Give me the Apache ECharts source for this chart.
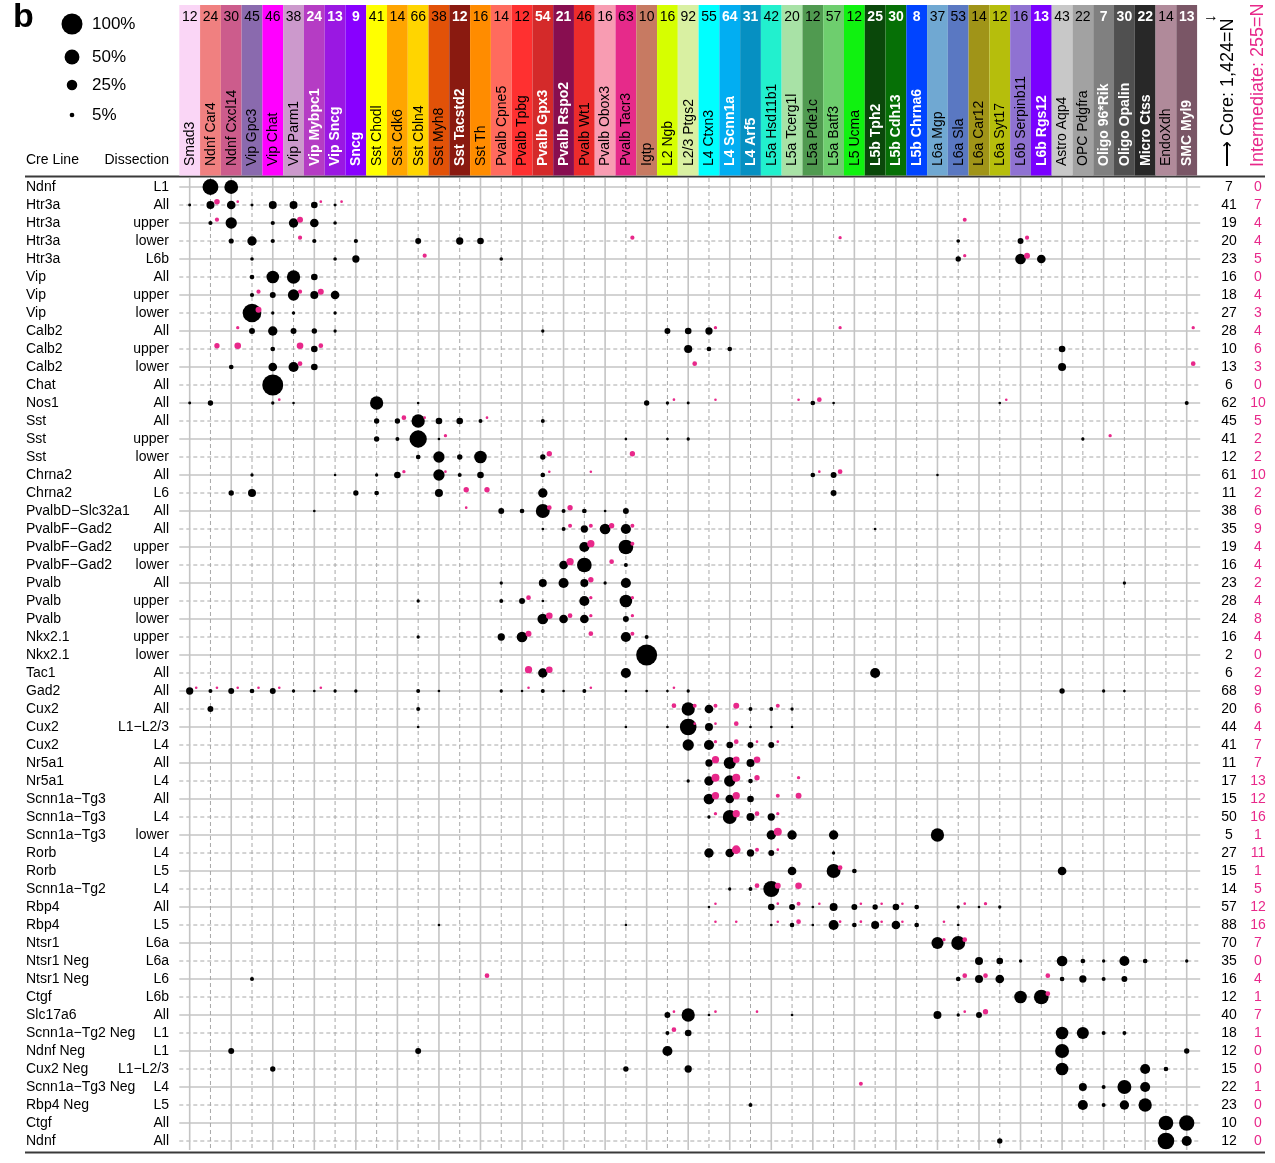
<!DOCTYPE html>
<html>
<head>
<meta charset="utf-8">
<script src="https://cdn.jsdelivr.net/npm/echarts@6/dist/echarts.min.js"></script>
<style>
  html, body { margin: 0; padding: 0; background: #fff; }
  #chart { width: 1275px; height: 1163px; }
</style>
</head>
<body>
<div id="chart"></div>
<script>
// ---- cell types (columns) ----
const cellTypes = ['Smad3','Ndnf Car4','Ndnf Cxcl14','Vip Gpc3','Vip Chat','Vip Parm1','Vip Mybpc1','Vip Sncg','Sncg',
  'Sst Chodl','Sst Cdk6','Sst Cbln4','Sst Myh8','Sst Tacstd2','Sst Th','Pvalb Cpne5','Pvalb Tpbg','Pvalb Gpx3',
  'Pvalb Rspo2','Pvalb Wt1','Pvalb Obox3','Pvalb Tacr3','Igtp','L2 Ngb','L2/3 Ptgs2','L4 Ctxn3','L4 Scnn1a','L4 Arf5',
  'L5a Hsd11b1','L5a Tcerg1l','L5a Pde1c','L5a Batf3','L5 Ucma','L5b Tph2','L5b Cdh13','L5b Chrna6','L6a Mgp','L6a Sla',
  'L6a Car12','L6a Syt17','L6b Serpinb11','L6b Rgs12','Astro Aqp4','OPC Pdgfra','Oligo 96*Rik','Oligo Opalin',
  'Micro Ctss','EndoXdh','SMC Myl9'];
const typeCounts = [12,24,30,45,46,38,24,13,9,41,14,66,38,12,16,14,12,54,21,46,16,63,10,16,92,55,64,31,42,20,12,57,12,25,30,8,37,53,14,12,16,13,43,22,7,30,22,14,13];

// ---- Cre lines (rows) ----
const creLines = ['Ndnf','Htr3a','Htr3a','Htr3a','Htr3a','Vip','Vip','Vip','Calb2','Calb2','Calb2','Chat','Nos1',
  'Sst','Sst','Sst','Chrna2','Chrna2','PvalbD\u2212Slc32a1','PvalbF\u2212Gad2','PvalbF\u2212Gad2','PvalbF\u2212Gad2',
  'Pvalb','Pvalb','Pvalb','Nkx2.1','Nkx2.1','Tac1','Gad2','Cux2','Cux2','Cux2','Nr5a1','Nr5a1',
  'Scnn1a\u2212Tg3','Scnn1a\u2212Tg3','Scnn1a\u2212Tg3','Rorb','Rorb','Scnn1a\u2212Tg2','Rbp4','Rbp4','Ntsr1',
  'Ntsr1 Neg','Ntsr1 Neg','Ctgf','Slc17a6','Scnn1a\u2212Tg2 Neg','Ndnf Neg','Cux2 Neg','Scnn1a\u2212Tg3 Neg',
  'Rbp4 Neg','Ctgf','Ndnf'];
const dissections = ['L1','All','upper','lower','L6b','All','upper','lower','All','upper','lower','All','All',
  'All','upper','lower','All','L6','All','All','upper','lower','All','upper','lower','upper','lower','All','All',
  'All','L1\u2212L2/3','L4','All','L4','All','L4','lower','L4','L5','L4','All','L5','L6a','L6a','L6','L6b','All',
  'L1','L1','L1\u2212L2/3','L4','L5','All','All'];
const coreN = [7,41,19,20,23,16,18,27,28,10,13,6,62,45,41,12,61,11,38,35,19,16,23,28,24,16,2,6,68,20,44,41,11,17,15,50,5,27,15,14,57,88,70,35,16,12,40,18,12,15,22,23,10,12];
const interN = [0,7,4,4,5,0,4,3,4,6,3,0,10,5,2,2,10,2,6,9,4,4,2,4,8,4,0,2,9,6,4,7,7,13,12,16,1,11,1,5,12,16,7,0,4,1,7,1,0,0,1,0,0,0];

// ---- percent of each Cre line's cells per type: [row, column, percent] ----
const coreDots = [
  [0,1,57],[0,2,43],
  [1,0,2],[1,1,14.5],[1,2,17],[1,3,2],[1,4,14.5],[1,5,14.5],[1,6,10],[1,7,2],
  [2,1,4],[2,2,29],[2,4,4],[2,5,20],[2,6,17],[2,7,3],
  [3,2,6],[3,3,20],[3,4,4],[3,6,4],[3,8,4],[3,11,8],[3,13,12],[3,14,10],[3,37,3],[3,40,8],
  [4,3,3],[4,7,3],[4,8,12],[4,15,3],[4,37,6.5],[4,40,26],[4,41,17],
  [5,3,5],[5,4,36],[5,5,40],[5,6,10],
  [6,3,4],[6,4,8],[6,5,29],[6,6,14.5],[6,7,17],
  [7,3,79],[7,4,2.5],[7,5,2.5],[7,7,2.5],
  [8,3,8],[8,4,20],[8,5,8],[8,6,6.5],[8,7,2.5],[8,17,2.5],[8,23,8],[8,24,10],[8,25,12],
  [9,4,5],[9,6,10],[9,24,15],[9,25,5],[9,26,5],[9,42,10],
  [10,2,5],[10,4,17],[10,5,23],[10,6,10],[10,42,14.5],
  [11,4,100],
  [12,0,2],[12,1,6.5],[12,4,2.5],[12,5,1],[12,9,40],[12,11,1],[12,22,6.5],[12,23,2.5],[12,24,2],[12,30,5],[12,31,1.6],[12,39,1.6],[12,48,3.6],
  [13,9,6.5],[13,10,6.5],[13,11,40],[13,12,10],[13,13,10],[13,14,3.6],[13,17,3.6],
  [14,9,6.5],[14,10,3.6],[14,11,68],[14,12,1.6],[14,21,1.6],[14,23,1.6],[14,24,2.5],[14,43,2.5],
  [15,11,5],[15,12,29],[15,13,6.5],[15,14,36],[15,17,6.5],
  [16,3,2.5],[16,7,1],[16,9,2.5],[16,10,10],[16,12,29],[16,13,3.6],[16,14,10],[16,17,5],[16,30,5],[16,31,8],[16,36,1],
  [17,2,6.5],[17,3,14.5],[17,8,6.5],[17,9,5],[17,12,14.5],[17,17,20],[17,31,8],
  [18,6,1.6],[18,15,8],[18,16,5],[18,17,44],[18,18,3.6],[18,19,5],[18,20,1.6],[18,21,8],
  [19,17,1.6],[19,18,3.6],[19,19,12],[19,20,26],[19,21,23],[19,33,1.6],
  [20,19,23],[20,21,49],
  [21,18,17],[21,19,49],[21,21,3.6],
  [22,15,2.5],[22,17,14.5],[22,18,23],[22,19,14.5],[22,20,2.5],[22,21,23],[22,45,2.5],
  [23,11,2.5],[23,15,3.6],[23,16,8],[23,17,1.6],[23,19,23],[23,21,36],
  [24,17,26],[24,18,17],[24,19,17],[24,21,8],
  [25,11,2.5],[25,15,12],[25,16,26],[25,21,23],[25,22,3.6],
  [26,22,100],
  [27,17,20],[27,21,23],[27,33,23],
  [28,0,12],[28,1,3.6],[28,2,8],[28,3,5],[28,4,8],[28,5,2.5],[28,6,1],[28,7,2.5],[28,8,2.5],[28,11,3.6],[28,12,1],
  [28,15,2.5],[28,16,1],[28,17,3.6],[28,18,1],[28,19,3.6],[28,21,1],[28,22,1.6],[28,23,1],[28,24,2.5],[28,42,6.5],[28,44,2.5],[28,45,1.6],
  [29,1,8],[29,11,3.6],[29,24,40],[29,25,17],[29,27,3.6],[29,28,3.6],[29,29,2.5],
  [30,11,1.6],[30,21,1.6],[30,23,1.6],[30,24,63],[30,25,14.5],[30,27,1.6],[30,28,1.6],[30,29,1],
  [31,24,29],[31,25,23],[31,26,10],[31,27,8],[31,28,8],
  [32,25,12],[32,26,33],[32,27,14.5],
  [33,24,2.5],[33,25,20],[33,26,29],[33,27,5],
  [34,25,26],[34,26,17],[34,27,10],
  [35,25,2.5],[35,26,44],[35,27,14.5],[35,28,12],
  [36,28,20],[36,29,20],[36,31,20],[36,36,40],
  [37,25,20],[37,26,17],[37,27,12],[37,28,8],[37,31,2.5],
  [38,29,17],[38,31,44],[38,32,5],[38,42,17],
  [39,26,2.5],[39,27,3.6],[39,28,58],
  [40,25,1],[40,28,10],[40,29,8],[40,30,1],[40,31,14.5],[40,32,8],[40,33,6.5],[40,34,10],[40,35,5],[40,37,2.5],[40,38,1],[40,39,2.5],
  [41,12,1],[41,21,1],[41,28,1.6],[41,29,5],[41,30,1.6],[41,31,23],[41,32,5],[41,33,14.5],[41,34,17],[41,35,5],[41,37,1],
  [42,36,33],[42,37,44],
  [43,38,14.5],[43,39,10],[43,40,2.5],[43,42,26],[43,43,5],[43,44,2.5],[43,45,23],[43,46,5],[43,48,2.5],
  [44,3,3.6],[44,37,5],[44,38,14.5],[44,39,17],[44,42,5],[44,43,12],[44,44,3.6],[44,45,8],
  [45,40,36],[45,41,49],
  [46,23,8],[46,24,40],[46,25,1.6],[46,29,1.6],[46,36,14.5],[46,37,2.5],[46,38,8],
  [47,23,3.6],[47,24,10],[47,42,36],[47,43,33],[47,44,3.6],[47,45,3.6],
  [48,2,8],[48,11,8],[48,23,23],[48,42,44],[48,48,6.5],
  [49,4,6.5],[49,21,6.5],[49,24,12],[49,42,36],[49,46,23],[49,47,5],
  [50,43,14.5],[50,44,3.6],[50,45,44],[50,46,23],
  [51,27,3.6],[51,43,23],[51,44,3.6],[51,45,20],[51,46,40],
  [52,47,49],[52,48,53],
  [53,39,6.5],[53,47,63],[53,48,23]
];
const interDots = [
  [1,1,7],[1,2,1.6],[1,6,1.6],[1,7,1.6],
  [2,1,4],[2,5,8],[2,37,3.6],
  [3,5,4],[3,21,4],[3,31,2.5],[3,40,4],
  [4,11,4],[4,37,2.5],[4,40,8],
  [6,3,4],[6,5,4],[6,6,8],
  [7,3,8],
  [8,2,2.5],[8,25,2.5],[8,31,2.5],[8,48,2.5],
  [9,1,6.5],[9,2,10],[9,5,10],[9,6,5],
  [10,5,5],[10,24,5],[10,48,5],
  [12,4,1.6],[12,23,1.6],[12,25,1],[12,29,1],[12,30,5],[12,39,1],
  [13,10,5],[13,11,1.6],[13,14,1.6],
  [14,12,2.5],[14,44,2.5],
  [15,17,6.5],[15,21,6.5],
  [16,10,2.5],[16,12,1.6],[16,17,1],[16,19,1],[16,30,1.6],[16,31,5],
  [17,13,6.5],[17,14,6.5],
  [18,13,1.6],[18,17,5],[18,18,6.5],
  [19,18,3.6],[19,19,3.6],[19,20,6.5],[19,21,3.6],
  [20,19,12],[20,21,3.6],
  [21,18,12],[21,20,5],
  [22,19,6.5],
  [23,16,5],[23,19,2.5],[23,21,2.5],
  [24,17,10],[24,18,5],[24,19,2.5],[24,21,2.5],
  [25,16,8],[25,19,5],[25,21,3.6],
  [27,16,12],[27,17,10],
  [28,0,1],[28,1,1],[28,2,1],[28,3,1],[28,4,1],[28,6,1],[28,16,1],[28,19,1],[28,23,1],
  [29,23,5],[29,24,3.6],[29,25,3.6],[29,26,8],[29,28,3.6],
  [30,24,1.6],[30,25,1.6],[30,26,5],
  [31,25,2.5],[31,26,5],[31,27,1.6],[31,28,1.6],
  [32,25,12],[32,26,10],[32,27,10],
  [33,25,14.5],[33,26,14.5],[33,27,6.5],[33,29,2.5],
  [34,25,12],[34,26,12],[34,28,3.6],[34,29,8],
  [35,25,2.5],[35,26,12],[35,27,5],[35,28,2.5],
  [36,28,14.5],
  [37,26,17],[37,27,3.6],[37,28,1.6],
  [38,31,5],
  [39,27,5],[39,28,8],[39,29,10],
  [40,25,1],[40,28,1.6],[40,29,3.6],[40,30,1],[40,32,1],[40,33,1],[40,34,1],[40,37,1.6],[40,38,2.5],
  [41,25,1],[41,26,1],[41,28,1],[41,29,5],[41,31,1.6],[41,32,1.6],[41,33,1],[41,34,1],[41,36,1],
  [42,36,2.5],[42,37,5],
  [44,14,5],[44,37,5],[44,38,5],[44,41,5],
  [45,41,5],
  [46,23,1.6],[46,25,1.6],[46,27,1.6],[46,37,1.6],[46,38,6.5],
  [47,23,5],
  [50,32,3.6]
];

// ---- styling ----
const typeColors = ['#FAD6F6','#F08080','#CC5C8C','#8A6AAE','#FF00FF','#CC99CC','#B53CC4','#9A18E2','#8800FF',
  '#FFFF00','#FFA500','#FFD500','#E25208','#8A1A10','#FF8C00','#FF6B5E','#FF3030','#D42A2A','#880E50','#EC2C2C',
  '#F89CB2','#E62A8A','#C77A62','#D6FF00','#D9F0A2','#00FFFF','#02AEF2','#0690C2','#22F0CE','#A8E2A6','#509A50',
  '#6ECE6E','#10F210','#0A480A','#067006','#0044FF','#70A8D2','#5A78C2','#A09418','#B6BE0C','#8F72D2','#7A00FF',
  '#C8C8C8','#A2A2A2','#808080','#505050','#282828','#B08A9A','#7A5666'];
const whiteBold = new Set([6,7,8,13,17,18,26,27,33,34,35,41,44,45,46,48]);
const FONT = '"Liberation Sans", Arial, Helvetica, sans-serif';
const PINK = '#E8288A';
const DOT_FULL = 21;            // diameter of a 100% circle, px
const dotSize = p => Math.max(2.6, DOT_FULL * Math.sqrt(p / 100));

const nCols = cellTypes.length, nRows = creLines.length;
const chart = echarts.init(document.getElementById('chart'), null, { renderer: 'canvas' });

const gridLine = (solid) => solid
  ? { stroke: '#c4c4c4', lineWidth: 1.6 }
  : { stroke: '#a8a8a8', lineWidth: 1, lineDash: [4, 3] };

const option = {
  animation: false,
  backgroundColor: '#fff',
  grid: { left: 179.3, top: 178, width: 1017.8, height: 972, containLabel: false },
  xAxis: { type: 'value', min: -0.5, max: nCols - 0.5, show: false },
  yAxis: { type: 'value', min: -0.5, max: nRows - 0.5, inverse: true, show: false },
  graphic: [
    { type: 'text', left: 13, top: 1, style: { text: 'b', font: 'bold 34px ' + FONT, fill: '#000' } },
    { type: 'line', shape: { x1: 25, y1: 176.5, x2: 1265, y2: 176.5 }, style: { stroke: '#3a3a3a', lineWidth: 2 } },
    { type: 'line', shape: { x1: 25, y1: 1152.5, x2: 1265, y2: 1152.5 }, style: { stroke: '#3a3a3a', lineWidth: 2 } },
    { type: 'text', x: 26, y: 160, style: { text: 'Cre Line', font: '14px ' + FONT, fill: '#000', verticalAlign: 'middle' } },
    { type: 'text', x: 169, y: 160, style: { text: 'Dissection', font: '14px ' + FONT, fill: '#000', align: 'right', verticalAlign: 'middle' } },
    { type: 'text', x: 1211, y: 17, style: { text: '\u2192', font: 'bold 16px ' + FONT, fill: '#000', align: 'center', verticalAlign: 'middle' } },
    { type: 'text', x: 1228, y: 167, rotation: Math.PI / 2,
      style: { text: '\u27F6 Core: 1,424=N', font: '18px ' + FONT, fill: '#000', verticalAlign: 'middle' } },
    { type: 'text', x: 1258, y: 167, rotation: Math.PI / 2,
      style: { text: 'Intermediate: 255=N', font: '18px ' + FONT, fill: PINK, verticalAlign: 'middle' } }
  ].concat([[100, 24], [50, 57], [25, 85], [5, 115]].flatMap(([p, y]) => [
    { type: 'circle', shape: { cx: 72, cy: y, r: dotSize(p) / 2 }, style: { fill: '#000' } },
    { type: 'text', x: 92, y: y, style: { text: p + '%', font: '17px ' + FONT, fill: '#000', verticalAlign: 'middle' } }
  ])),
  series: [
    { // horizontal guide lines through each row
      type: 'custom', silent: true, clip: false, z: 1,
      data: creLines.map((_, r) => [0, r]),
      renderItem(params, api) {
        const r = api.value(1);
        const a = api.coord([-0.5, r]), b = api.coord([nCols - 0.5 + 0.15, r]);
        return { type: 'line', shape: { x1: a[0], y1: a[1], x2: b[0], y2: b[1] }, style: gridLine(r % 2 === 0) };
      }
    },
    { // vertical guide lines through each type
      type: 'custom', silent: true, clip: false, z: 1,
      data: cellTypes.map((_, c) => [c, 0]),
      renderItem(params, api) {
        const c = api.value(0);
        const a = api.coord([c, -0.5]), b = api.coord([c, nRows - 0.5]);
        return { type: 'line', shape: { x1: a[0], y1: a[1], x2: b[0], y2: b[1] }, style: gridLine(c % 2 === 0) };
      }
    },
    { // column header: colour band, type size and rotated name
      type: 'custom', silent: true, clip: false, z: 2,
      data: cellTypes.map((_, c) => [c, 0]),
      renderItem(params, api) {
        const c = api.value(0);
        const l = api.coord([c - 0.5, 0])[0], rgt = api.coord([c + 0.5, 0])[0];
        const cx = (l + rgt) / 2;
        const wb = whiteBold.has(c);
        const txt = { fill: wb ? '#fff' : '#000', fontWeight: wb ? 'bold' : 'normal', fontSize: 14, fontFamily: FONT };
        return { type: 'group', children: [
          { type: 'rect', shape: { x: l, y: 5, width: rgt - l, height: 170.5 }, style: { fill: typeColors[c] } },
          { type: 'text', x: cx, y: 17, style: Object.assign({ text: String(typeCounts[c]), align: 'center', verticalAlign: 'middle' }, txt) },
          { type: 'text', x: cx + 0.5, y: 166, rotation: Math.PI / 2,
            style: Object.assign({ text: cellTypes[c], align: 'left', verticalAlign: 'middle' }, txt) }
        ] };
      }
    },
    { // row labels and cell totals
      type: 'custom', silent: true, clip: false, z: 2,
      data: creLines.map((_, r) => [0, r]),
      renderItem(params, api) {
        const r = api.value(1);
        const y = api.coord([0, r])[1];
        const base = { fontSize: 14, fontFamily: FONT, verticalAlign: 'middle' };
        return { type: 'group', children: [
          { type: 'text', x: 26, y: y, style: Object.assign({ text: creLines[r], fill: '#000', align: 'left' }, base) },
          { type: 'text', x: 169, y: y, style: Object.assign({ text: dissections[r], fill: '#000', align: 'right' }, base) },
          { type: 'text', x: 1229, y: y, style: Object.assign({ text: String(coreN[r]), fill: '#000', align: 'center' }, base) },
          { type: 'text', x: 1258, y: y, style: Object.assign({ text: String(interN[r]), fill: PINK, align: 'center' }, base) }
        ] };
      }
    },
    { // core cells
      name: 'Core', type: 'scatter', z: 3, silent: true,
      data: coreDots.map(d => [d[1], d[0], d[2]]),
      symbolSize: v => dotSize(v[2]),
      itemStyle: { color: '#000', opacity: 1 }
    },
    { // intermediate cells, nudged up-right of the core dot
      name: 'Intermediate', type: 'scatter', z: 4, silent: true,
      data: interDots.map(d => [d[1], d[0], d[2]]),
      symbolSize: v => dotSize(v[2]),
      symbolOffset: [6.5, -3.3],
      itemStyle: { color: PINK, opacity: 1 }
    }
  ]
};
chart.setOption(option);
</script>
</body>
</html>
